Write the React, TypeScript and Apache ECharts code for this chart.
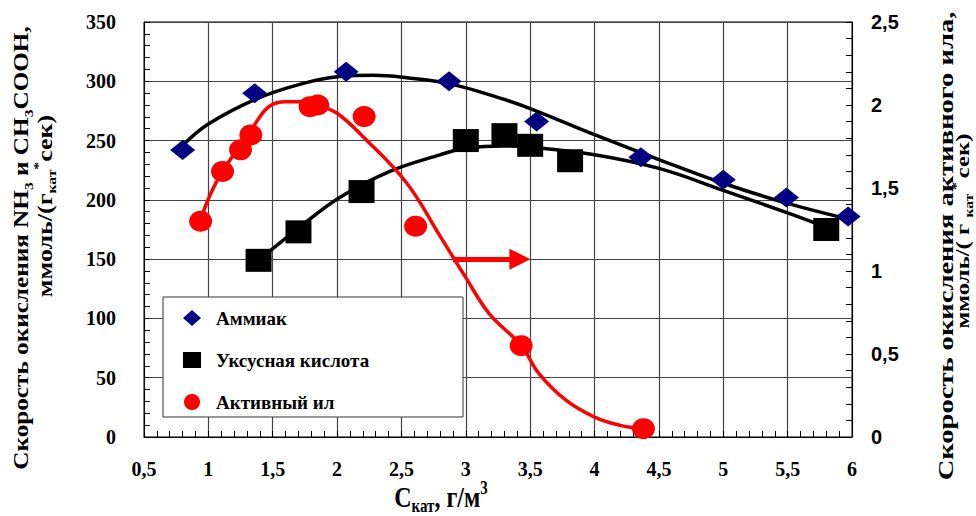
import React, { useEffect, useRef } from "react";
import * as echarts from "echarts";

// Measured points
const ammoniaX = [0.8, 1.36, 2.07, 2.87, 3.55, 4.36, 5.0, 5.49, 5.97];
const ammoniaY = [242, 290, 308, 300, 266, 236, 217, 202, 186];

const aceticX = [1.39, 1.7, 2.19, 3.0, 3.3, 3.5, 3.81, 5.8];
const aceticY = [149, 173, 207, 250, 255, 246, 233, 175];

const sludgeX = [0.94, 1.11, 1.25, 1.33, 1.79, 1.85, 2.21, 2.61, 3.43, 4.38];
const sludgeY = [1.3, 1.6, 1.73, 1.82, 1.99, 2.0, 1.93, 1.27, 0.55, 0.05];

// Trend curves
const ammoniaCurveX = [0.81, 1.0, 1.37, 1.73, 2.02, 2.28, 2.54, 2.87, 3.26, 3.5, 4.0, 4.5, 5.0, 5.5, 6.0];
const ammoniaCurveY = [247, 264, 285, 298, 304, 305, 303, 298, 286, 277, 255, 234, 214, 197, 183];

const aceticCurveX = [1.39, 1.71, 2.02, 2.41, 2.8, 3.0, 3.3, 3.5, 4.0, 4.5, 5.0, 5.5, 5.82];
const aceticCurveY = [149, 177, 202, 224, 238, 243.5, 245.5, 244.5, 238, 226.5, 208, 189, 176];

const sludgeCurveX = [0.94, 1.02, 1.11, 1.24, 1.34, 1.47, 1.6, 1.73, 1.85, 2.0, 2.2, 2.54, 2.8, 3.0, 3.18, 3.43, 3.57, 3.78, 4.0, 4.2, 4.37];
const sludgeCurveY = [1.31, 1.47, 1.6, 1.75, 1.86, 1.99, 2.02, 2.02, 2.0, 1.95, 1.81, 1.53, 1.21, 0.96, 0.745, 0.55, 0.38, 0.22, 0.12, 0.07, 0.05];

// Arrow pointing to the right axis (left-axis units)
const arrowX = [2.9, 3.42];
const arrowY = [150, 150];

const seriesNames = ["Аммиак", "Уксусная кислота", "Активный ил"];

const zip = (xs: number[], ys: number[]) => xs.map((x, i) => [x, ys[i]]);
const comma = (v: number) => String(v).replace(".", ",");

const SERIF = "'Liberation Serif', 'Times New Roman', serif";
const SANS = "'Liberation Sans', Arial, sans-serif";

export default function App() {
  const ref = useRef<HTMLDivElement>(null);
  useEffect(() => {
    if (!ref.current) return;
    const chart = echarts.init(ref.current, undefined, { renderer: "svg" });
    const tickLabel = { fontFamily: SERIF, fontWeight: "bold", fontSize: 20, color: "#000" };
    const richBase = (size: number) => ({
      a: { fontFamily: SERIF, fontWeight: "bold", fontSize: size, lineHeight: size + 6, fill: "#000" },
      s: { fontFamily: SERIF, fontWeight: "bold", fontSize: Math.round(size * 0.62), lineHeight: Math.round(size * 0.62), verticalAlign: "bottom", fill: "#000" },
      u: { fontFamily: SERIF, fontWeight: "bold", fontSize: Math.round(size * 0.62), lineHeight: Math.round(size * 0.62), verticalAlign: "top", fill: "#000" },
    });
    const option: any = {
      animation: false,
      backgroundColor: "#fff",
      grid: { left: 144, right: 124, top: 22, bottom: 79, show: true, borderColor: "#000", borderWidth: 1 },
      xAxis: {
        type: "value",
        min: 0.5,
        max: 6,
        interval: 0.5,
        axisLine: { show: true, lineStyle: { color: "#000", width: 1 } },
        axisTick: { show: true, inside: true, length: 6, lineStyle: { color: "#000" } },
        minorTick: { show: true, splitNumber: 5, length: 6, lineStyle: { color: "#000" } },
        splitLine: { show: true, lineStyle: { color: "#444", width: 1.2 } },
        axisLabel: { ...tickLabel, margin: 22, formatter: comma },
      },
      yAxis: [
        {
          type: "value",
          min: 0,
          max: 350,
          interval: 50,
          axisLine: { show: true, lineStyle: { color: "#000", width: 1 } },
          axisTick: { show: true, inside: true, length: 6, lineStyle: { color: "#000" } },
          minorTick: { show: true, splitNumber: 5, length: 6, lineStyle: { color: "#000" } },
          splitLine: { show: true, lineStyle: { color: "#444", width: 1.2 } },
          axisLabel: { ...tickLabel, margin: 28, formatter: comma },
        },
        {
          type: "value",
          position: "right",
          min: 0,
          max: 2.5,
          interval: 0.5,
          axisLine: { show: true, lineStyle: { color: "#000", width: 1 } },
          axisTick: { show: true, inside: true, length: 6, lineStyle: { color: "#000" } },
          minorTick: { show: true, splitNumber: 5, length: 6, lineStyle: { color: "#000" } },
          splitLine: { show: false },
          axisLabel: { fontFamily: SANS, fontWeight: "bold", fontSize: 20, color: "#000", margin: 19, formatter: comma },
        },
      ],
      legend: {
        orient: "vertical",
        left: 178,
        top: 303,
        itemWidth: 18,
        itemHeight: 16,
        itemGap: 22,
        z: 6,
        data: [
          { name: seriesNames[0], icon: "diamond" },
          { name: seriesNames[1], icon: "rect" },
          { name: seriesNames[2], icon: "circle" },
        ],
        textStyle: { fontFamily: SERIF, fontWeight: "bold", fontSize: 19, lineHeight: 20, color: "#000", padding: [0, 0, 0, 10] },
      },
      graphic: [
        {
          type: "rect",
          z: 5,
          shape: { x: 163, y: 297, width: 300, height: 120 },
          style: { fill: "#fff", stroke: "#333", lineWidth: 1 },
        },
        {
          type: "text",
          x: 21,
          y: 248,
          rotation: Math.PI / 2,
          scaleX: 1.2,
          style: {
            text: "{a|Скорость окисления NH}{s|3}{a| и CH}{s|3}{a|COOH,}",
            rich: richBase(21),
            align: "center",
            verticalAlign: "middle",
          },
        },
        {
          type: "text",
          x: 45,
          y: 206,
          rotation: Math.PI / 2,
          scaleX: 1.3,
          style: {
            text: "{a|ммоль/(г}{s|кат}{u|*}{a|сек)}",
            rich: richBase(20),
            align: "center",
            verticalAlign: "middle",
          },
        },
        {
          type: "text",
          x: 946,
          y: 246,
          rotation: Math.PI / 2,
          scaleX: 1.36,
          style: {
            text: "{a|Скорость окисления активного ила,}",
            rich: richBase(21),
            align: "center",
            verticalAlign: "middle",
          },
        },
        {
          type: "text",
          x: 963,
          y: 231,
          rotation: Math.PI / 2,
          scaleX: 1.3,
          style: {
            text: "{a|ммоль/( г }{s|кат}{u| * }{a|сек)}",
            rich: richBase(19),
            align: "center",
            verticalAlign: "middle",
          },
        },
        {
          type: "text",
          x: 441,
          y: 497,
          scaleY: 1.2,
          style: {
            text: "{a|С}{s|кат}{a|, г/м}{u|3}",
            rich: richBase(24),
            align: "center",
            verticalAlign: "middle",
          },
        },
      ],
      series: [
        {
          type: "line",
          data: zip(ammoniaCurveX, ammoniaCurveY),
          smooth: 0.4,
          showSymbol: false,
          symbol: "none",
          lineStyle: { color: "#000", width: 3.5 },
          z: 2,
          silent: true,
          markLine: {
            silent: true,
            symbol: ["none", "triangle"],
            symbolSize: 21,
            label: { show: false },
            lineStyle: { color: "#ff0000", width: 5, type: "solid", opacity: 1 },
            itemStyle: { color: "#ff0000" },
            data: [[{ coord: [arrowX[0], arrowY[0]] }, { coord: [arrowX[1], arrowY[1]] }]],
          },
        },
        {
          type: "line",
          data: zip(aceticCurveX, aceticCurveY),
          smooth: 0.4,
          showSymbol: false,
          symbol: "none",
          lineStyle: { color: "#000", width: 3.5 },
          z: 2,
          silent: true,
        },
        {
          type: "line",
          yAxisIndex: 1,
          data: zip(sludgeCurveX, sludgeCurveY),
          smooth: 0.4,
          showSymbol: false,
          symbol: "none",
          lineStyle: { color: "#ff0000", width: 3.5 },
          z: 2,
          silent: true,
        },
        {
          name: seriesNames[0],
          type: "scatter",
          data: zip(ammoniaX, ammoniaY),
          symbol: "diamond",
          symbolSize: [25, 20],
          itemStyle: { color: "#000080", opacity: 1 },
          z: 3,
        },
        {
          name: seriesNames[1],
          type: "scatter",
          data: zip(aceticX, aceticY),
          symbol: "rect",
          symbolSize: [26, 23],
          itemStyle: { color: "#000", opacity: 1 },
          z: 3,
        },
        {
          name: seriesNames[2],
          type: "scatter",
          yAxisIndex: 1,
          data: zip(sludgeX, sludgeY),
          symbol: "circle",
          symbolSize: [23, 21],
          itemStyle: { color: "#ff0000", opacity: 1 },
          z: 3,
        },
      ],
    };
    chart.setOption(option);
    return () => chart.dispose();
  }, []);
  return <div ref={ref} style={{ position: "fixed", left: 0, top: 0, width: 976, height: 516 }} />;
}
